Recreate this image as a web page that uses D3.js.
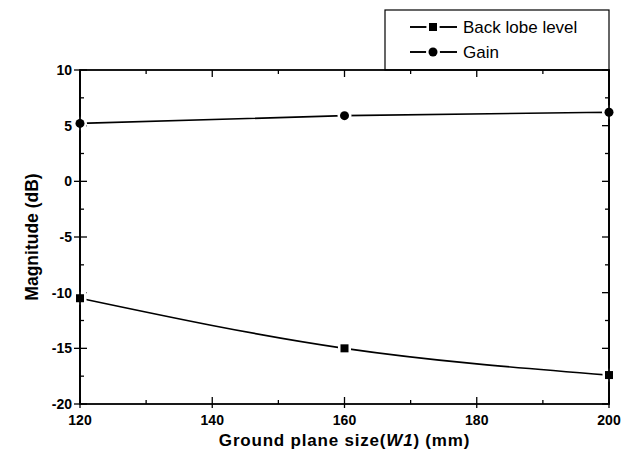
<!DOCTYPE html>
<html><head><meta charset="utf-8">
<script src="https://cdn.jsdelivr.net/npm/d3@7"></script>
<style>body{margin:0;background:#fff}svg{display:block}</style>
</head><body>
<script>
const xValues = [120, 160, 200];
const backLobe = [-10.5, -15.0, -17.4];
const gain = [5.2, 5.9, 6.2];
const xTicks = [120, 140, 160, 180, 200];
const yTicks = [-20, -15, -10, -5, 0, 5, 10];
const seriesNames = ["Back lobe level", "Gain"];

const W = 632, H = 462;
const svg = d3.select("body").append("svg").attr("width", W).attr("height", H);
const m = {l: 80, r: 609, t: 70, b: 404};
const x = d3.scaleLinear().domain([120, 200]).range([m.l, m.r]);
const y = d3.scaleLinear().domain([-20, 10]).range([m.b, m.t]);
const font = "Arial, 'Liberation Sans', sans-serif";

// legend box
svg.append("rect").attr("x", 385).attr("y", 10).attr("width", 224).attr("height", 60)
  .attr("fill", "#fff").attr("stroke", "#000").attr("stroke-width", 1.2);

// frame
svg.append("rect").attr("x", m.l).attr("y", m.t).attr("width", m.r - m.l).attr("height", m.b - m.t)
  .attr("fill", "none").attr("stroke", "#000").attr("stroke-width", 1.8);

// ticks inward
const g = svg.append("g").attr("stroke", "#000").attr("stroke-width", 1.3);
const xMinor = d3.range(120, 201, 10);
xMinor.forEach(v => {
  const L = (v % 20 === 0) ? 7 : 4;
  g.append("line").attr("x1", x(v)).attr("x2", x(v)).attr("y1", m.b).attr("y2", m.b - L);
  g.append("line").attr("x1", x(v)).attr("x2", x(v)).attr("y1", m.t).attr("y2", m.t + L);
});
const yMinor = d3.range(-20, 10.01, 2.5);
yMinor.forEach(v => {
  const L = (v % 5 === 0) ? 7 : 4;
  g.append("line").attr("x1", m.l).attr("x2", m.l + L).attr("y1", y(v)).attr("y2", y(v));
  g.append("line").attr("x1", m.r).attr("x2", m.r - L).attr("y1", y(v)).attr("y2", y(v));
});
xTicks.forEach(v => g.append("line").attr("x1", x(v)).attr("x2", x(v)).attr("y1", m.b).attr("y2", m.b + 4));
yTicks.forEach(v => g.append("line").attr("x1", m.l).attr("x2", m.l - 6).attr("y1", y(v)).attr("y2", y(v)));

// tick labels
svg.append("g").selectAll("text").data(xTicks).join("text")
  .attr("x", d => x(d)).attr("y", m.b + 21).attr("text-anchor", "middle")
  .attr("font-family", font).attr("font-weight", "bold").attr("font-size", 14).text(d => d);
svg.append("g").selectAll("text").data(yTicks).join("text")
  .attr("x", m.l - 8).attr("y", d => y(d) + 5).attr("text-anchor", "end")
  .attr("font-family", font).attr("font-weight", "bold").attr("font-size", 14).text(d => d);

// axis titles
const xt = svg.append("text").attr("x", (m.l + m.r) / 2).attr("y", 446).attr("text-anchor", "middle")
  .attr("font-family", font).attr("font-weight", "bold").attr("font-size", 17).attr("letter-spacing", 0.8);
xt.append("tspan").text("Ground plane size(");
xt.append("tspan").attr("font-style", "italic").text("W1");
xt.append("tspan").text(") (mm)");
svg.append("text").attr("transform", `translate(38,${(m.t + m.b) / 2}) rotate(-90)`)
  .attr("text-anchor", "middle").attr("font-family", font).attr("font-weight", "bold")
  .attr("font-size", 17.5).text("Magnitude (dB)");

// lines
const line = d3.line().x(d => x(d[0])).y(d => y(d[1])).curve(d3.curveNatural);
const series = [backLobe, gain].map(vals => xValues.map((v, i) => [v, vals[i]]));
series.forEach(s => {
  svg.append("path").datum(s).attr("d", line).attr("fill", "none")
    .attr("stroke", "#000").attr("stroke-width", 1.7);
});
function square(sel, cx, cy) {
  sel.append("rect").attr("x", cx - 6.5).attr("y", cy - 6.5).attr("width", 13).attr("height", 13).attr("fill", "#fff");
  sel.append("rect").attr("x", cx - 4).attr("y", cy - 4).attr("width", 8).attr("height", 8).attr("fill", "#000");
}
function circle(sel, cx, cy) {
  sel.append("circle").attr("cx", cx).attr("cy", cy).attr("r", 7).attr("fill", "#fff");
  sel.append("circle").attr("cx", cx).attr("cy", cy).attr("r", 4.5).attr("fill", "#000");
}
const mk = svg.append("g");
series[0].forEach(d => square(mk, x(d[0]), y(d[1])));
series[1].forEach(d => circle(mk, x(d[0]), y(d[1])));
svg.append("line").attr("x1", m.l).attr("x2", m.l).attr("y1", m.t).attr("y2", m.b).attr("stroke", "#000").attr("stroke-width", 1.8);
svg.append("line").attr("x1", m.r).attr("x2", m.r).attr("y1", m.t).attr("y2", m.b).attr("stroke", "#000").attr("stroke-width", 1.8);

// legend entries
const lg = svg.append("g");
[27, 52].forEach((ly, i) => {
  lg.append("line").attr("x1", 410).attr("x2", 457).attr("y1", ly).attr("y2", ly).attr("stroke", "#000").attr("stroke-width", 1.7);
  if (i === 0) square(lg, 433, ly); else circle(lg, 433, ly);
  lg.append("line").attr("x1", 410).attr("x2", 426).attr("y1", ly).attr("y2", ly).attr("stroke", "#000").attr("stroke-width", 1.7);
  lg.append("line").attr("x1", 440).attr("x2", 457).attr("y1", ly).attr("y2", ly).attr("stroke", "#000").attr("stroke-width", 1.7);
  lg.append("text").attr("x", 463).attr("y", ly + 6).attr("font-family", font).attr("font-size", 17).text(seriesNames[i]);
});
</script>
</body></html>
